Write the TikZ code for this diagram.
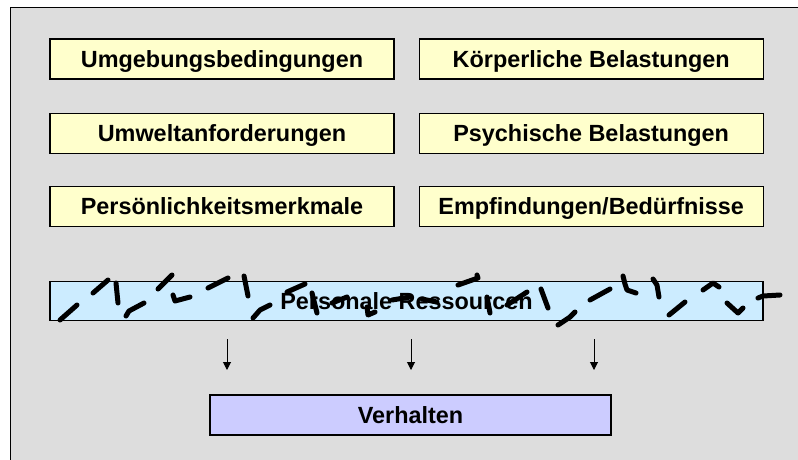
\documentclass[tikz,border=0pt]{standalone}
\usepackage{fontspec}
\setmainfont{Liberation Sans}
\usetikzlibrary{arrows.meta, positioning}
\definecolor{panelgray}{RGB}{221,221,221}
\definecolor{boxyellow}{RGB}{255,255,204}
\definecolor{resblue}{RGB}{204,236,255}
\definecolor{verhlila}{RGB}{204,204,255}

\begin{document}
\begin{tikzpicture}[
    x=1pt, y=-1pt,
    node distance=32pt and 24pt,
    factor/.style={rectangle, draw=black, line width=1.2pt,
                   fill=boxyellow, minimum width=344pt, minimum height=40pt,
                   inner sep=0pt, text height=21pt, text depth=5pt,
                   font=\fontsize{23.4}{27}\selectfont\bfseries, text centered},
    bar/.style={factor, fill=resblue, minimum width=713pt, minimum height=39pt},
    result/.style={factor, fill=verhlila, minimum width=401pt},
    arr/.style={-{Triangle[width=8pt,length=8pt]}, line width=1pt},
    scribble/.style={line width=5pt, line cap=round, line join=round}
  ]

    \useasboundingbox (0,0) rectangle (798,459);
    \fill[white] (0,0) rectangle (798,459);
    \draw[fill=panelgray, line width=1pt] (10.5,7.5) rectangle (805,465);

    \node[factor] (umgeb) at (222,59) {Umgebungsbedingungen};
    \node[factor, right=of umgeb]  (koerper) {Körperliche Belastungen};
    \node[factor, below=33pt of umgeb] (umwelt)  {Umweltanforderungen};
    \node[factor, right=of umwelt] (psych)   {Psychische Belastungen};
    \node[factor, below=of umwelt] (persoen) {Persönlichkeitsmerkmale};
    \node[factor, right=of persoen] (empf)   {Empfindungen/Bedürfnisse};

    \node[bar, below right=54pt and 0pt of persoen.south west] (ress) {Personale Ressourcen};

    \node[result] (verh) at (410.5,415) {Verhalten};

    \foreach \x [count=\i] in {227,411,594} {
      \coordinate (from\i) at (\x,339);
      \coordinate (to\i)   at (\x,370);
      \draw[arr] (from\i) -- (to\i);
    }

    % scribbles across the resources bar
    \draw[scribble]
      (60,320) -- (77,305)
      (93,293) -- (108,280)
      (116,283) -- (118,303)
      (126,316) -- (129,311) -- (144,303)
      (158,289) -- (172,275)
      (173,295) -- (175,301) -- (190,297)
      (208,288) -- (228,278)
      (244,276) -- (248,296)
      (253,318) -- (260,310) -- (270,305)
      (287,292) -- (305,284)
      (312,293) -- (317,313)
      (332,303) -- (347,297)
      (367,307) -- (368,315) -- (375,312)
      (392,300) -- (410,297)
      (422,299) -- (437,302)
      (458,285) -- (478,278) -- (477,275)
      (487,297) -- (490,313)
      (507,305) -- (527,292)
      (541,289) -- (548,308)
      (558,325) -- (570,317) -- (575,312)
      (590,300) -- (610,289)
      (623,276) -- (625,284) -- (627,290) -- (636,293)
      (653,279) -- (657,285) -- (659,297)
      (669,315) -- (685,302)
      (703,290) -- (713,283) -- (719,287)
      (727,303) -- (738,313) -- (743,308)
      (758,298) -- (763,296) -- (780,295);

  \end{tikzpicture}
\end{document}
